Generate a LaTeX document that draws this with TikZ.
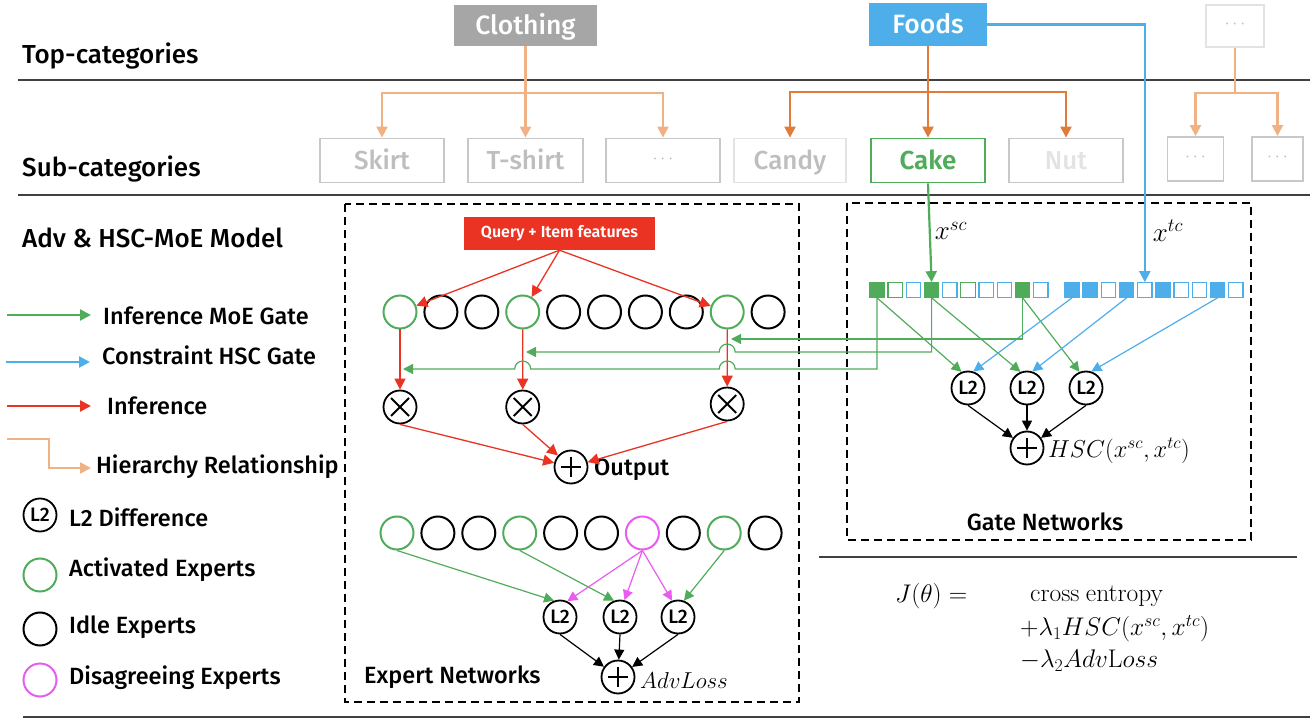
\RequirePackage{fix-cm}
\documentclass[tikz,border=0pt]{standalone}
\usepackage[no-math]{fontspec}
\setsansfont{Fira Sans}[UprightFont={* Medium}, BoldFont={* SemiBold}]
\renewcommand\familydefault{\sfdefault}
\usetikzlibrary{arrows.meta}
\definecolor{cgreen}{RGB}{80,172,90}
\definecolor{cblue}{RGB}{77,174,234}
\definecolor{cred}{RGB}{234,51,35}
\definecolor{corl}{RGB}{240,178,132}
\definecolor{cord}{RGB}{224,124,58}
\definecolor{cmag}{RGB}{232,92,240}
\definecolor{cgfill}{RGB}{166,166,166}
\definecolor{cgline}{RGB}{200,200,200}
\definecolor{cgtext}{RGB}{190,190,190}
\definecolor{clight}{RGB}{227,227,227}
\definecolor{crule}{RGB}{64,64,64}
\tikzset{
  lab/.style={font=\fontsize{23.5}{26}\selectfont, anchor=west, inner sep=0pt},
  head/.style={font=\fontsize{26}{28}\selectfont, anchor=west, inner sep=0pt},
  topbox/.style={font=\fontsize{26.5}{28}\selectfont, text=white, inner sep=0pt,
     text height=24pt, text depth=6pt},
  subbox/.style={draw=cgline, line width=1.8pt, minimum height=44pt, inner sep=0pt,
     font=\fontsize{26}{28}\selectfont, text=cgtext, text height=24pt, text depth=6pt},
  dotsbox/.style={subbox, font=\fontsize{18}{20}\selectfont, text height=6pt, text depth=0pt},
  expert/.style={circle, draw, line width=2pt, minimum size=33pt, inner sep=0pt},
  ltwo/.style={circle, draw, line width=1.8pt, minimum size=33pt, inner sep=0pt,
     font=\fontsize{19.5}{20}\selectfont},
  opcirc/.style={circle, draw, line width=1.8pt, minimum size=33pt, inner sep=0pt},
  times/.style={opcirc, path picture={
     \draw[line width=2pt] ([shift={(-9,-9)}]path picture bounding box.center) -- ([shift={(9,9)}]path picture bounding box.center);
     \draw[line width=2pt] ([shift={(-9,9)}]path picture bounding box.center) -- ([shift={(9,-9)}]path picture bounding box.center);}},
  plus/.style={opcirc, path picture={
     \draw[line width=1.8pt] ([shift={(-10,0)}]path picture bounding box.center) -- ([shift={(10,0)}]path picture bounding box.center);
     \draw[line width=1.8pt] ([shift={(0,-10)}]path picture bounding box.center) -- ([shift={(0,10)}]path picture bounding box.center);}},
  sqbase/.style={rectangle, line width=1.2pt, minimum size=14.5pt, inner sep=0pt, fill=white},
  sqgf/.style={sqbase, draw=cgreen, fill=cgreen},
  sqgo/.style={sqbase, draw=cgreen},
  sqbo/.style={sqbase, draw=cblue},
  sqbf/.style={sqbase, draw=cblue, fill=cblue},
  tipa/.style={-{Triangle[length=11pt,width=11pt]}},
  tipb/.style={-{Triangle[length=10pt,width=10pt]}},
  hierl/.style={draw=corl, line width=2.2pt},
  hierd/.style={draw=cord, line width=2.2pt},
  redl/.style={draw=cred, line width=1.3pt},
  gthin/.style={draw=cgreen, line width=1.2pt},
  bthin/.style={draw=cblue, line width=1.2pt},
  mthin/.style={draw=cmag, line width=1.2pt},
  kthin/.style={draw=black, line width=1.2pt},
  dbox/.style={draw=black, line width=2.2pt, dash pattern=on 8pt off 5pt},
  rule/.style={draw=crule, line width=1.3pt},
  mathlab/.style={font=\fontsize{24.5}{28}\selectfont, inner sep=0pt},
  formula/.style={font=\fontsize{25.5}{28}\selectfont, inner sep=0pt, anchor=west},
}
\begin{document}
\begin{tikzpicture}[x=1pt,y=-1pt]
\useasboundingbox (0,0) rectangle (1315,719);
% rules
\draw[rule] (18,80) -- (1310,80);
\draw[rule] (18,195) -- (1310,195);
\draw[rule] (819,557) -- (1297,557);
\draw[rule] (23,717) -- (1310,717);
% row labels
\node[head] (ltop) at (22,56) {Top-categories};
\node[head] (lsub) at (22,169) {Sub-categories};
\node[head] (lmodel) at (22,238) {Adv \& HSC-MoE Model};
% top categories
\node[topbox, fill=cgfill, minimum width=143pt, minimum height=41pt] (cloth) at (525.5,25.5) {Clothing};
\node[topbox, fill=cblue, minimum width=118pt, minimum height=43pt] (foods) at (928,24.5) {Foods};
\node[dotsbox, draw=clight, minimum width=58pt, minimum height=42pt, text=cgtext] (topdots) at (1235,26) {$\cdots$};
% sub categories
\node[subbox, minimum width=124pt] (skirt) at (382,160.5) {Skirt};
\node[subbox, minimum width=115pt] (tshirt) at (525.5,160.5) {T-shirt};
\node[dotsbox, minimum width=114pt] (dots1) at (663,160.5) {$\cdots$};
\node[subbox, draw=clight, minimum width=112pt] (candy) at (790,160.5) {Candy};
\node[subbox, draw=cgreen, text=cgreen, minimum width=114pt] (cake) at (928,160.5) {\bfseries Cake};
\node[subbox, text=clight, minimum width=114pt] (nut) at (1066,160.5) {Nut};
\node[dotsbox, minimum width=56pt] (sdots1) at (1195.5,159) {$\cdots$};
\node[dotsbox, minimum width=51pt] (sdots2) at (1277.5,159) {$\cdots$};
% hierarchy arrows
\coordinate (cj) at (525.5,93);
\draw[hierl] (cloth.south) -- (cj);
\draw[hierl,tipa] (cj) -| (skirt.north);
\draw[hierl,tipa] (cj) -- (tshirt.north);
\draw[hierl,tipa] (cj) -| (dots1.north);
\coordinate (fj) at (928,92);
\draw[hierd] (foods.south) -- (fj);
\draw[hierd,tipa] (fj) -| (candy.north);
\draw[hierd,tipa] (fj) -- (cake.north);
\draw[hierd,tipa] (fj) -| (nut.north);
\coordinate (dj) at (1235,93);
\draw[hierl] (topdots.south) -- (dj);
\draw[hierl,tipa] (dj) -| (sdots1.north);
\draw[hierl,tipa] (dj) -| (sdots2.north);
% dashed boxes
\draw[dbox] (345,204) rectangle (799,702);
\draw[dbox] (847,203) rectangle (1251,540);
% ---------- expert networks ----------
\node[fill=cred, text=white, font=\fontsize{16}{18}\selectfont\bfseries, minimum width=191pt, minimum height=33pt, inner sep=0pt] (query) at (559.5,233.5) {Query + Item features};
\foreach \c [count=\i] in {cgreen,black,black,cgreen,black,black,black,black,cgreen,black}
  \node[expert, draw=\c] (ea\i) at ({400+40.9*(\i-1)},312) {};
\foreach \c [count=\i] in {cgreen,black,black,cgreen,black,black,cmag,black,cgreen,black}
  \node[expert, draw=\c] (eb\i) at ({397+40.9*(\i-1)},533) {};
\node[times] (m1) at (400,407) {};
\node[times] (m2) at (522.7,407) {};
\node[times] (m3) at (727.2,404) {};
\node[plus] (out) at (571,467) {};
\node[lab] (outlab) at (594,470) {Output};
\draw[redl,tipa] (query.south) -- (ea1);
\draw[redl,tipa] (query.south) -- (ea4);
\draw[redl,tipa] (query.south) -- (ea9);
\draw[redl,tipa] (ea1.south) -- (m1.north);
\draw[redl,tipa] (ea4.south) -- (m2.north);
\draw[redl,tipa] (ea9.south) -- (m3.north);
\draw[redl,tipa] (m1.south) -- (out);
\draw[redl,tipa] (m2.south) -- (out);
\draw[redl,tipa] (m3.south) -- (out);
% adversarial part
\node[ltwo] (a1) at (560,617) {L2};
\node[ltwo] (a2) at (620,617) {L2};
\node[ltwo] (a3) at (678,617) {L2};
\node[plus] (advp) at (618,677) {};
\node[mathlab, anchor=west, font=\fontsize{23}{26}\selectfont] (advlab) at (640,681) {$AdvLoss$};
\draw[gthin,tipb] (eb1.south) -- (a1.110);
\draw[gthin,tipb] (eb4.south) -- (a2.110);
\draw[gthin,tipb] (eb9.south) -- (a3.70);
\draw[mthin,tipb] (eb7.south) -- (a1.65);
\draw[mthin,tipb] (eb7.south) -- (a2.75);
\draw[mthin,tipb] (eb7.south) -- (a3.110);
\draw[kthin,tipb] (a1.south) -- (advp);
\draw[kthin,tipb] (a2.south) -- (advp);
\draw[kthin,tipb] (a3.south) -- (advp);
\node[lab] (expnet) at (364,677) {Expert Networks};
% ---------- gate networks ----------
\foreach \t [count=\i] in {gf,go,bo,gf,bo,go,bo,bo,gf,bo}
  \node[sq\t] (sa\i) at ({877+18.2*(\i-1)},290) {};
\foreach \t [count=\i] in {bf,bf,bo,bf,bo,bf,bo,bo,bf,bo}
  \node[sq\t] (sb\i) at ({1072+18.2*(\i-1)},290) {};
\draw[draw=cgreen, line width=2.2pt, tipa] (cake.south) -- (sa4.north);
\draw[draw=cblue, line width=2.2pt, tipa] (foods.east) -| (sb5.north);
\node[mathlab, font=\fontsize{27}{30}\selectfont] (xsc) at (951,231) {$x^{sc}$};
\node[mathlab, font=\fontsize{27}{30}\selectfont] (xtc) at (1168,231) {$x^{tc}$};
\node[ltwo] (g1) at (968,388) {L2};
\node[ltwo] (g2) at (1027,388) {L2};
\node[ltwo] (g3) at (1086,388) {L2};
\node[plus] (gp) at (1027,448) {};
\node[mathlab, anchor=west] (hsclab) at (1048,451) {$HSC(x^{sc},x^{tc})$};
\draw[gthin,tipb] (sa1.south) -- (g1.112);
\draw[gthin,tipb] (sa4.south) -- (g2.112);
\draw[gthin,tipb] (sa9.south) -- (g3.112);
\draw[bthin,tipb] (sb1.south) -- (g1.72);
\draw[bthin,tipb] (sb4.south) -- (g2.72);
\draw[bthin,tipb] (sb9.south) -- (g3.72);
\draw[kthin,tipb] (g1.south) -- (gp);
\draw[kthin,tipb] (g2.south) -- (gp);
\draw[kthin,tipb] (g3.south) -- (gp);
\node[lab, anchor=center] (gatenet) at (1045,522) {Gate Networks};
% gate -> expert weights (with hops)
\coordinate (t3) at (731,339);
\coordinate (t2) at (526,352);
\coordinate (t1) at (403,369);
\draw[gthin,tipb] (sa9.south) |- (t3);
\draw[gthin,tipb] (sa4.south) |- (735.2,352) arc[start angle=0,end angle=-180,radius=8] -- (t2);
\draw[gthin,tipb] (sa1.south) |- (735.2,369) arc[start angle=0,end angle=-180,radius=8] -- (530.7,369) arc[start angle=0,end angle=-180,radius=8] -- (t1);
% ---------- legend ----------
\coordinate (lg1a) at (7,315); \coordinate (lg1b) at (91,315);
\coordinate (lg2a) at (6,362); \coordinate (lg2b) at (90,362);
\coordinate (lg3a) at (7,406); \coordinate (lg3b) at (91,406);
\coordinate (lg4a) at (7,439); \coordinate (lg4b) at (91,468);
\draw[draw=cgreen, line width=2.2pt, tipa] (lg1a) -- (lg1b);
\draw[draw=cblue, line width=2.2pt, tipa] (lg2a) -- (lg2b);
\draw[draw=cred, line width=2.2pt, tipa] (lg3a) -- (lg3b);
\draw[hierl, tipa] (lg4a) -| (49,468) -- (lg4b);
\node[lab] (t_moe) at (103,316) {Inference MoE Gate};
\node[lab] (t_hsc) at (102,355) {Constraint HSC Gate};
\node[lab] (t_inf) at (107,406) {Inference};
\node[lab] (t_hier) at (96,467) {Hierarchy Relationship};
\node[ltwo] (lgl2) at (40,515) {L2};
\node[lab] (t_l2) at (69,517) {L2 Difference};
\node[expert, draw=cgreen] (lgact) at (40,575) {};
\node[lab] (t_act) at (69,570) {Activated Experts};
\node[expert, draw=black] (lgidle) at (40,629) {};
\node[lab] (t_idle) at (69,627) {Idle Experts};
\node[expert, draw=cmag] (lgdis) at (40,680) {};
\node[lab] (t_dis) at (69,678) {Disagreeing Experts};
% ---------- objective ----------
\node[formula] (jt) at (895,596) {$J(\theta) =$};
\node[formula] (ce) at (1030,596) {$\mathrm{cross\ entropy}$};
\node[formula] (l1) at (1020,629) {$+\lambda_1 HSC(x^{sc},x^{tc})$};
\node[formula] (l2t) at (1020,661) {$-\lambda_2 Adv\mathrm{L}oss$};
\end{tikzpicture}
\end{document}
